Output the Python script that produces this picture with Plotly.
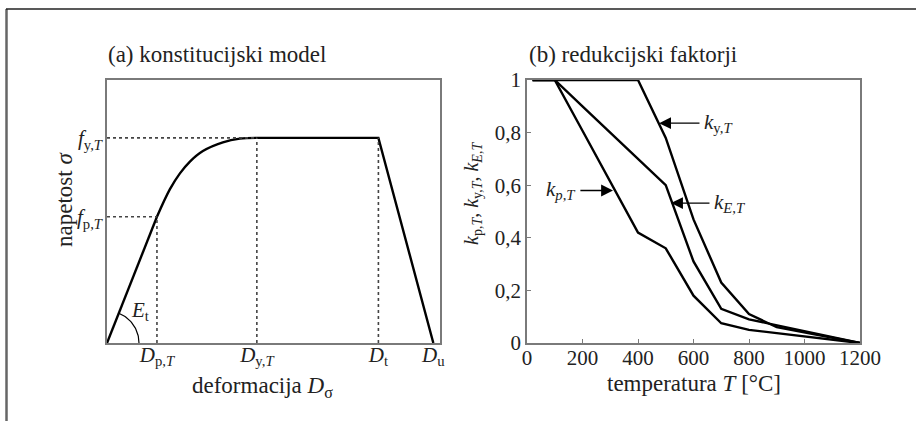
import numpy as np
import plotly.graph_objects as go

# ---------------- Panel (a): constitutive model (normalised units) ----------------
strain_ticks = [1.5, 4.5, 8.15, 9.8]          # D_p,T  D_y,T  D_t  D_u
strain_tick_labels = ["<i>D</i><sub>p,<i>T</i></sub>", "<i>D</i><sub>y,<i>T</i></sub>",
                      "<i>D</i><sub>t</sub>", "<i>D</i><sub>u</sub>"]
stress_ticks = [0.48, 0.78]                     # f_p,T  f_y,T
stress_tick_labels = ["<i>f</i><sub>p,<i>T</i></sub>", "<i>f</i><sub>y,<i>T</i></sub>"]

elastic_strain = [0, 1.5]
elastic_stress = [0, 0.48]
curve_strain = [1.5, 1.89, 2.19, 2.49, 2.88, 3.48, 3.99, 4.5]
curve_stress = [0.48, 0.585, 0.645, 0.69, 0.73, 0.763, 0.777, 0.78]
plateau_strain = [4.5, 8.15, 9.8]
plateau_stress = [0.78, 0.78, 0]

# ---------------- Panel (b): reduction factors ----------------
temps = [20, 100, 200, 300, 400, 500, 600, 700, 800, 900, 1000, 1100, 1200]
k_y = [1, 1, 1, 1, 1, 0.78, 0.47, 0.23, 0.11, 0.06, 0.04, 0.02, 0]
k_p = [1, 1, 0.807, 0.613, 0.42, 0.36, 0.18, 0.075, 0.05, 0.0375, 0.025, 0.0125, 0]
k_E = [1, 1, 0.9, 0.8, 0.7, 0.6, 0.31, 0.13, 0.09, 0.0675, 0.045, 0.0225, 0]
temp_ticks = [0, 200, 400, 600, 800, 1000, 1200]
k_ticks = [0, 0.2, 0.4, 0.6, 0.8, 1]
k_tick_labels = ["0", "0,2", "0,4", "0,6", "0,8", "1"]

FONT = "Liberation Serif, Times New Roman, serif"
W, H = 916, 421
AX = "#7a7a7a"
LW = 2.4


def px(x):
    return x / W


def py(y):
    return (H - y) / H


fig = go.Figure()
line = dict(color="black", width=LW)
fig.add_trace(go.Scatter(x=elastic_strain, y=elastic_stress, mode="lines", line=line, xaxis="x", yaxis="y"))
fig.add_trace(go.Scatter(x=curve_strain, y=curve_stress, mode="lines",
                         line=dict(color="black", width=LW, shape="spline", smoothing=1.0), xaxis="x", yaxis="y"))
fig.add_trace(go.Scatter(x=plateau_strain, y=plateau_stress, mode="lines", line=line, xaxis="x", yaxis="y"))

# E_t angle arc (decoration)
ang = np.linspace(0, np.arctan2(0.48 * 263, 1.5 * 33.3), 30)
r = 32
fig.add_trace(go.Scatter(x=r * np.cos(ang) / 33.3, y=r * np.sin(ang) / 263, mode="lines",
                         line=dict(color="black", width=1.2), xaxis="x", yaxis="y"))

for ky in (k_y, k_p, k_E):
    fig.add_trace(go.Scatter(x=temps, y=ky, mode="lines", line=line, xaxis="x2", yaxis="y2"))

# dotted guide lines
dot = dict(color="#444", width=1.6, dash="dot")
shapes = [
    dict(type="line", xref="x", yref="y", x0=0, x1=strain_ticks[1], y0=stress_ticks[1], y1=stress_ticks[1], line=dot),
    dict(type="line", xref="x", yref="y", x0=0, x1=strain_ticks[0], y0=stress_ticks[0], y1=stress_ticks[0], line=dot),
    dict(type="line", xref="x", yref="y", x0=strain_ticks[0], x1=strain_ticks[0], y0=0, y1=stress_ticks[0], line=dot),
    dict(type="line", xref="x", yref="y", x0=strain_ticks[1], x1=strain_ticks[1], y0=0, y1=stress_ticks[1], line=dot),
    dict(type="line", xref="x", yref="y", x0=strain_ticks[2], x1=strain_ticks[2], y0=0, y1=stress_ticks[1], line=dot),
    # outer frame (left and top edges)
    dict(type="line", xref="paper", yref="paper", x0=px(6.5), x1=px(6.5), y0=0, y1=py(9), line=dict(color="#666", width=2.5)),
    dict(type="line", xref="paper", yref="paper", x0=px(6), x1=1, y0=py(9), y1=py(9), line=dict(color="#222", width=1.6)),
]

ann = []
tf = dict(family=FONT, size=23, color="#222")
ann.append(dict(text="(a) konstitucijski model", x=px(106), y=py(55), xref="paper", yref="paper",
                xanchor="left", yanchor="middle", showarrow=False, font=tf))
ann.append(dict(text="(b) redukcijski faktorji", x=px(527), y=py(55), xref="paper", yref="paper",
                xanchor="left", yanchor="middle", showarrow=False, font=tf))
ann.append(dict(text="deformacija <i>D</i><sub>σ</sub>", x=px(262), y=py(387), xref="paper", yref="paper",
                xanchor="center", yanchor="middle", showarrow=False, font=tf))
ann.append(dict(text="temperatura <i>T</i> [°C]", x=px(694), y=py(383), xref="paper", yref="paper",
                xanchor="center", yanchor="middle", showarrow=False, font=tf))
ann.append(dict(text="napetost <i>σ</i>", x=px(64), y=py(200), xref="paper", yref="paper", textangle=-90,
                xanchor="center", yanchor="middle", showarrow=False, font=tf))
ann.append(dict(text="<i>k</i><sub>p,<i>T</i></sub>, <i>k</i><sub>y,<i>T</i></sub>, <i>k</i><sub><i>E</i>,<i>T</i></sub>",
                x=px(472), y=py(194), xref="paper", yref="paper", textangle=-90,
                xanchor="center", yanchor="middle", showarrow=False, font=dict(family=FONT, size=20, color="#222")))
ann.append(dict(text="<i>E</i><sub>t</sub>", x=1.0, y=0.12, xref="x", yref="y",
                xanchor="center", yanchor="middle", showarrow=False, font=dict(family=FONT, size=21, color="#222")))

# arrows with labels in panel (b)
arrows = [
    # head (x, y), tail x, label, label x, anchor
    (476, 0.836, 627, "<i>k</i><sub>y,<i>T</i></sub>", 632, "left"),
    (519, 0.532, 663, "<i>k</i><sub><i>E</i>,<i>T</i></sub>", 668, "left"),
    (310, 0.58, 187, "<i>k</i><sub><i>p</i>,<i>T</i></sub>", 184, "right"),
]
lf = dict(family=FONT, size=21, color="#222")
for hx, hy, tx, lab, lx, anc in arrows:
    ann.append(dict(x=hx, y=hy, ax=tx, ay=hy, xref="x2", yref="y2", axref="x2", ayref="y2", text="",
                    showarrow=True, arrowhead=2, arrowsize=1.7, arrowwidth=1.4, arrowcolor="black"))
    ann.append(dict(x=lx, y=hy, xref="x2", yref="y2", text=lab, showarrow=False, xanchor=anc,
                    yanchor="middle", font=lf))

tickfont = dict(family=FONT, size=21, color="#222")
common = dict(showgrid=False, zeroline=False, showline=True, mirror=True, linecolor=AX, linewidth=1.6,
              automargin=False, tickfont=tickfont)
fig.update_layout(
    template="none",
    font=dict(family=FONT, size=21, color="#222"),
    width=W, height=H, margin=dict(l=0, r=0, t=0, b=0, pad=0), autosize=False,
    paper_bgcolor="white", plot_bgcolor="white", showlegend=False,
    xaxis=dict(domain=[px(107), px(440)], range=[0, 10], ticks="", ticklabelstandoff=-8,
               tickvals=strain_ticks, ticktext=strain_tick_labels, anchor="y", **common),
    yaxis=dict(domain=[py(343), py(80)], range=[0, 1], ticks="", ticklabelstandoff=-1,
               tickvals=stress_ticks, ticktext=stress_tick_labels, anchor="x", **common),
    xaxis2=dict(domain=[px(527), px(860)], range=[0, 1200], ticks="inside", ticklen=4, ticklabelstandoff=-5,
                tickcolor=AX, tickvals=temp_ticks, anchor="y2", **common),
    yaxis2=dict(domain=[py(343), py(80)], range=[0, 1], ticks="inside", ticklen=4,
                tickcolor=AX, tickvals=k_ticks, ticktext=k_tick_labels, anchor="x2", **common),
    shapes=shapes, annotations=ann,
)

fig.write_html("out.html")
